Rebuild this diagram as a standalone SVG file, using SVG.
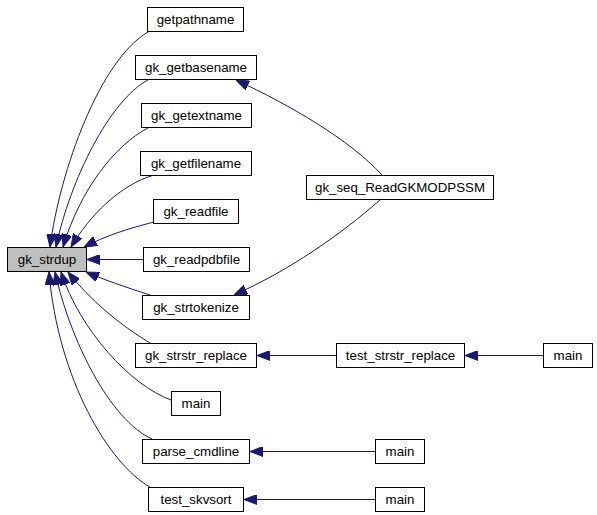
<svg xmlns="http://www.w3.org/2000/svg" width="597" height="515" viewBox="0 0 597 515">
<style>
.n rect{fill:#fff;stroke:#000;stroke-width:1}
.n.root rect{fill:#bfbfbf}
.n text{font-family:"Liberation Sans",Arial,sans-serif;font-size:13.3px;fill:#000;text-anchor:middle}
.e path{fill:none;stroke:#191970;stroke-width:1;marker-end:url(#ah)}
</style>
<defs>
<marker id="ah" viewBox="0 0 13 10" refX="13" refY="5" markerWidth="13" markerHeight="10" markerUnits="userSpaceOnUse" orient="auto">
<path d="M0,0 L13,5 L0,10 z" fill="#191970" stroke="#191970" stroke-width="1"/>
</marker>
</defs>
<rect width="597" height="515" fill="#fff"/>
<g id="edges" class="e">
<path d="M148,32 C100,60 60,170 50,247"/>
<path d="M148,80 C110,100 70,180 56,247"/>
<path d="M148,128 C115,145 80,190 63,247"/>
<path d="M154,175 C120,185 90,215 71,247"/>
<path d="M154,222 C130,228 105,236 84,247"/>
<path d="M143,259.5 L87,259.5"/>
<path d="M150,295 C125,287 105,280 86,272"/>
<path d="M150,343 C120,325 90,300 68,272"/>
<path d="M171,400 C130,385 80,330 61,272"/>
<path d="M152,439 C110,420 70,340 55,272"/>
<path d="M150,487 C110,465 58,380 49,272"/>
<path d="M382,175 C350,140 290,105 236,80"/>
<path d="M380,200 C340,235 290,270 234,295"/>
<path d="M336,355.5 L257,355.5"/>
<path d="M543,355.5 L465,355.5"/>
<path d="M375,451.5 L250,451.5"/>
<path d="M375,499.5 L244,499.5"/>
</g>
<g id="gk_strdup" class="n root"><rect x="7.5" y="247.5" width="79" height="24"/><text x="47" y="264">gk_strdup</text></g>
<g id="getpathname" class="n"><rect x="147.5" y="7.5" width="96" height="24"/><text x="195.5" y="24">getpathname</text></g>
<g id="gk_getbasename" class="n"><rect x="135.5" y="55.5" width="121" height="24"/><text x="196" y="72">gk_getbasename</text></g>
<g id="gk_getextname" class="n"><rect x="141.5" y="103.5" width="110" height="24"/><text x="196.5" y="120">gk_getextname</text></g>
<g id="gk_getfilename" class="n"><rect x="140.5" y="151.5" width="111" height="24"/><text x="196" y="168">gk_getfilename</text></g>
<g id="gk_readfile" class="n"><rect x="153.5" y="199.5" width="85" height="24"/><text x="196" y="216">gk_readfile</text></g>
<g id="gk_readpdbfile" class="n"><rect x="143.5" y="247.5" width="106" height="24"/><text x="196.5" y="264">gk_readpdbfile</text></g>
<g id="gk_strtokenize" class="n"><rect x="142.5" y="295.5" width="107" height="24"/><text x="196" y="312">gk_strtokenize</text></g>
<g id="gk_strstr_replace" class="n"><rect x="135.5" y="343.5" width="121" height="24"/><text x="196" y="360">gk_strstr_replace</text></g>
<g id="main1" class="n"><rect x="171.5" y="391.5" width="49" height="24"/><text x="196" y="408">main</text></g>
<g id="parse_cmdline" class="n"><rect x="142.5" y="439.5" width="107" height="24"/><text x="196" y="456">parse_cmdline</text></g>
<g id="test_skvsort" class="n"><rect x="148.5" y="487.5" width="95" height="24"/><text x="196" y="504">test_skvsort</text></g>
<g id="gk_seq_ReadGKMODPSSM" class="n"><rect x="306.5" y="175.5" width="187" height="24"/><text x="400" y="192">gk_seq_ReadGKMODPSSM</text></g>
<g id="test_strstr_replace" class="n"><rect x="336.5" y="343.5" width="128" height="24"/><text x="400.5" y="360">test_strstr_replace</text></g>
<g id="main2" class="n"><rect x="375.5" y="439.5" width="49" height="24"/><text x="400" y="456">main</text></g>
<g id="main3" class="n"><rect x="375.5" y="487.5" width="49" height="24"/><text x="400" y="504">main</text></g>
<g id="main4" class="n"><rect x="543.5" y="343.5" width="49" height="24"/><text x="568" y="360">main</text></g>
</svg>
